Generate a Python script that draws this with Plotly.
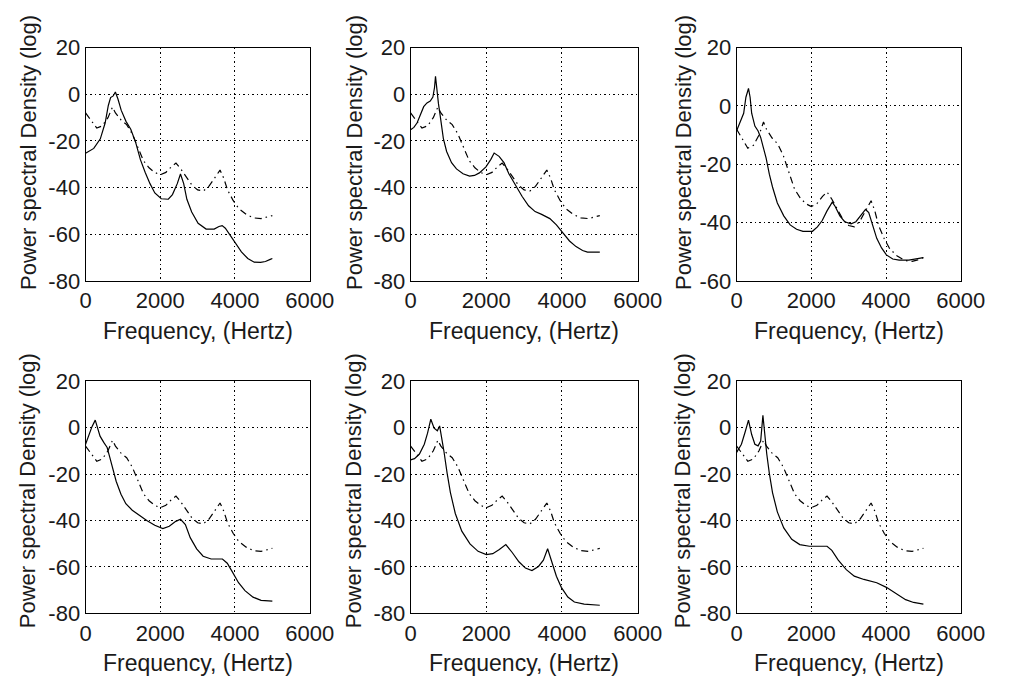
import plotly.graph_objects as go

# Shared reference spectrum (dash-dot), Hz / dB
ref_freq = [0, 150, 300, 450, 600, 720, 800, 950, 1100, 1250, 1400, 1550, 1700, 1850, 2000, 2150, 2300, 2420,
            2550, 2700, 2850, 3000, 3150, 3300, 3450, 3600, 3700, 3800, 3950, 4100, 4300, 4500, 4700, 4850, 5000]
ref_psd = [-8, -11.5, -14.5, -13.5, -10, -5.5, -8, -11, -13, -17, -23, -28.5, -31.5, -33.5, -34.5, -33.5, -31, -29.5,
           -32, -35.5, -39, -41, -41.5, -39.5, -36, -32.5, -36, -41, -45.5, -49, -51.5, -53, -53.3, -52.8, -52]

# Panel spectra (solid)
freq_a = [0, 220, 395, 524, 609, 670, 740, 798, 867, 953, 1082, 1210, 1339, 1468, 1597, 1725, 1854, 2026, 2215, 2326,
          2455, 2541, 2627, 2712, 2841, 3013, 3227, 3442, 3571, 3657, 3742, 3871, 4000, 4172, 4343, 4515, 4687, 4815,
          4944, 5000]
psd_a = [-25.3, -23.2, -19.1, -12.3, -4.8, -1.4, -0.7, 1.0, -2.0, -6.8, -11.6, -15.0, -20.5, -28.0, -33.5, -38.3,
         -42.3, -44.8, -45.0, -43.0, -38.3, -34.2, -38.3, -45.0, -50.5, -55.3, -57.8, -57.8, -56.7, -56.3, -57.4,
         -60.4, -63.5, -67.6, -70.4, -72.0, -72.1, -71.7, -70.8, -70.4]

freq_b = [0, 87, 173, 260, 346, 433, 519, 589, 632, 658, 693, 736, 779, 823, 866, 952, 1082, 1212, 1385, 1558, 1688,
          1818, 1991, 2121, 2208, 2338, 2468, 2597, 2771, 2944, 3117, 3290, 3463, 3680, 3853, 4026, 4199, 4372, 4545,
          4675, 5000]
psd_b = [-15.2, -14.2, -12.2, -8.8, -5.3, -3.7, -2.9, -1.2, 2.9, 7.7, 1.5, -4.0, -8.8, -13.6, -19.0, -24.5, -29.3,
         -32.0, -34.1, -35.1, -34.8, -33.7, -31.1, -27.9, -25.2, -26.6, -29.3, -34.1, -38.9, -43.7, -47.8, -50.3,
         -51.5, -53.3, -56.0, -59.5, -62.9, -65.3, -67.0, -67.7, -67.7]

freq_c = [0, 189, 249, 318, 361, 403, 489, 575, 644, 704, 790, 876, 961, 1090, 1262, 1433, 1605, 1777, 2030, 2163,
          2292, 2420, 2560, 2635, 2764, 2893, 3064, 3193, 3322, 3451, 3537, 3622, 3751, 3880, 4009, 4180, 4352, 4609,
          4781, 5000]
psd_c = [-8.5, -2.5, 3.0, 6.0, 3.0, -2.5, -6.9, -8.6, -10.8, -13.5, -17.9, -23.4, -27.8, -33.3, -37.7, -40.8, -42.3,
         -43.0, -43.0, -41.5, -39.3, -36.0, -33.0, -34.4, -37.7, -39.7, -40.4, -39.7, -37.7, -35.5, -36.6, -40.4,
         -45.4, -48.7, -51.1, -52.5, -52.9, -52.9, -52.5, -52.0]

freq_d = [0, 86, 172, 259, 319, 388, 491, 578, 647, 733, 819, 948, 1078, 1250, 1422, 1638, 1853, 2069, 2241, 2414,
          2543, 2672, 2802, 2974, 3147, 3362, 3664, 3793, 3922, 4095, 4267, 4483, 4698, 5000]
psd_d = [-7.2, -3.0, 0.4, 3.2, -0.3, -3.7, -6.5, -8.6, -12.7, -18.3, -23.1, -28.7, -32.8, -35.6, -37.7, -40.0, -42.1,
         -43.5, -42.5, -40.4, -39.5, -41.8, -47.4, -52.2, -55.4, -56.6, -56.6, -58.4, -61.9, -66.8, -70.2, -73.0,
         -74.4, -74.7]

freq_e = [0, 103, 233, 362, 448, 534, 621, 707, 767, 810, 879, 966, 1052, 1181, 1353, 1569, 1784, 2000, 2172, 2345,
          2517, 2690, 2862, 3034, 3207, 3379, 3509, 3621, 3724, 3853, 3983, 4155, 4328, 4586, 5000]
psd_e = [-13.9, -13.4, -11.4, -7.2, -2.4, 3.6, -0.3, -1.4, 0.7, -3.0, -10.0, -19.7, -28.0, -37.0, -44.6, -50.1, -53.3,
         -54.7, -54.3, -52.5, -50.4, -53.9, -57.8, -60.5, -61.6, -59.8, -57.1, -52.2, -57.1, -64.0, -68.8, -73.0,
         -75.1, -76.0, -76.5]

freq_f = [0, 129, 232, 318, 403, 489, 575, 644, 704, 747, 807, 876, 961, 1090, 1262, 1476, 1691, 1949, 2421, 2549,
          2721, 2936, 3150, 3408, 3751, 4009, 4266, 4524, 4738, 5000]
psd_f = [-10.7, -7.2, -1.7, 3.2, -3.0, -7.2, -7.9, -5.8, 5.3, -3.0, -11.4, -19.7, -28.0, -36.3, -43.2, -48.1, -50.4,
         -51.1, -51.1, -52.9, -57.1, -61.2, -64.0, -65.4, -66.8, -68.8, -71.6, -74.1, -75.3, -76.0]

x_ticks = [0, 2000, 4000, 6000]
x_tick_labels = ["0", "2000", "4000", "6000"]
y_ranges = [[-80, 20], [-80, 20], [-60, 20], [-80, 20], [-80, 20], [-80, 20]]
x_title = "Frequency, (Hertz)"
y_title = "Power spectral Density (log)"

panels = [(freq_a, psd_a), (freq_b, psd_b), (freq_c, psd_c),
          (freq_d, psd_d), (freq_e, psd_e), (freq_f, psd_f)]

W, H = 1009, 689
col_px = [(82, 313), (417, 651), (753, 984)]
row_px = [(37, 279), (383, 624)]
ytitle_x_px = [23, 359, 698]
ytitle_y_px = [146, 497]
xtitle_y_px = [331, 675]

FONT = "Liberation Sans, Arial, sans-serif"
TXT = "#1a1a1a"
fig = go.Figure()
layout = dict(width=W, height=H, margin=dict(l=0, r=0, t=0, b=0),
              paper_bgcolor="white", plot_bgcolor="white", showlegend=False,
              font=dict(family=FONT, size=22, color=TXT))
annotations = []

for i, (fx, fy) in enumerate(panels):
    r, c = divmod(i, 3)
    n = "" if i == 0 else str(i + 1)
    xa, ya = "x" + n, "y" + n
    fig.add_trace(go.Scatter(x=ref_freq, y=ref_psd, mode="lines", xaxis=xa, yaxis=ya,
                             line=dict(color="black", width=1.2, dash="7px,4px,1.5px,4px")))
    fig.add_trace(go.Scatter(x=fx, y=fy, mode="lines", xaxis=xa, yaxis=ya,
                             line=dict(color="black", width=1.2)))
    x0, x1 = col_px[c]
    y0, y1 = row_px[r]
    common = dict(showline=True, linecolor="black", linewidth=1, mirror=True, zeroline=False,
                  showgrid=True, gridcolor="black", gridwidth=1, griddash="1.5px,3px",
                  ticks="", tickfont=dict(family=FONT, size=22, color=TXT))
    layout["xaxis" + n] = dict(domain=[x0 / W, x1 / W], range=[0, 6000], tickvals=x_ticks,
                               ticktext=x_tick_labels, anchor=ya, **common)
    lo, hi = y_ranges[i]
    yv = list(range(lo, hi + 1, 20))
    layout["yaxis" + n] = dict(domain=[1 - y1 / H, 1 - y0 / H], range=[lo, hi],
                               tickvals=yv, ticktext=[str(v) for v in yv], anchor=xa, **common)
    annotations.append(dict(text=x_title, xref="paper", yref="paper", x=(x0 + x1) / 2 / W,
                            y=1 - xtitle_y_px[r] / H, xanchor="center", yanchor="middle",
                            showarrow=False, font=dict(family=FONT, size=23, color=TXT)))
    annotations.append(dict(text=y_title, xref="paper", yref="paper", x=ytitle_x_px[c] / W,
                            y=1 - ytitle_y_px[r] / H, xanchor="center", yanchor="middle", textangle=-90,
                            showarrow=False, font=dict(family=FONT, size=22, color=TXT)))

layout["annotations"] = annotations
fig.update_layout(**layout)
fig.write_html("out.html")
